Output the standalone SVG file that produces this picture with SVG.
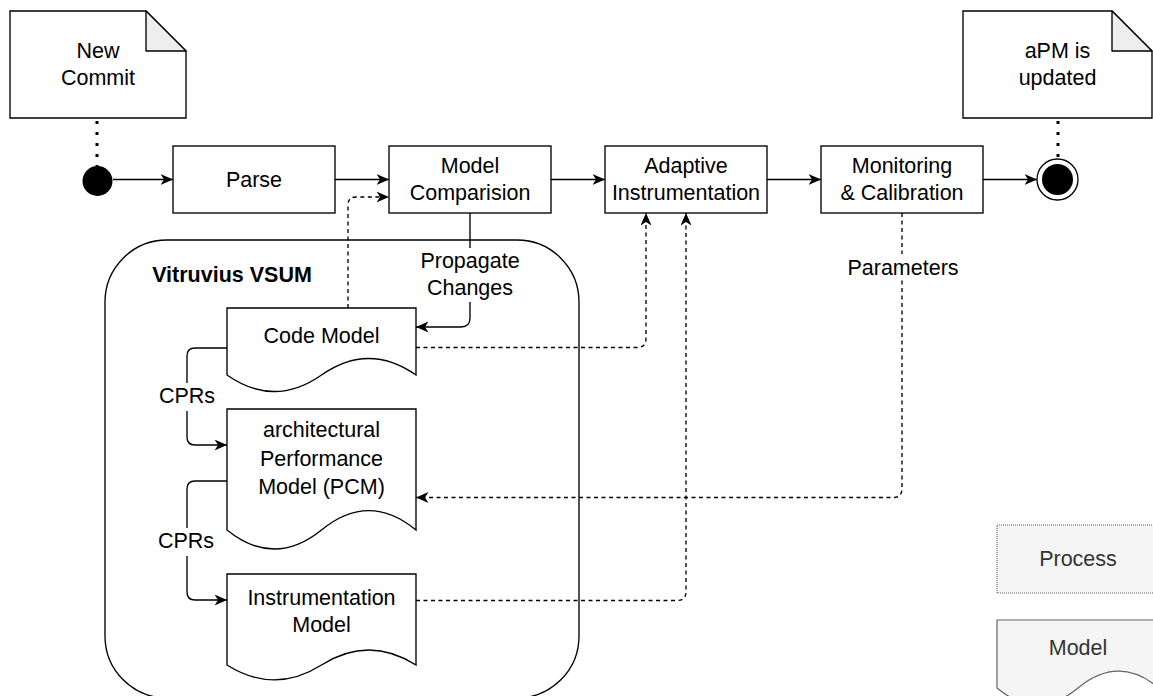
<svg xmlns="http://www.w3.org/2000/svg" width="1153" height="696" viewBox="0 0 1153 696">
  <style>
    text { font-family: "Liberation Sans", Arial, sans-serif; font-size: 21.5px; fill: #000; text-anchor: middle; }
    .box { fill: #fff; stroke: #000; stroke-width: 1.35; }
    .doc { fill: #fff; stroke: #000; stroke-width: 1.35; }
    .fold { fill: #eeeeee; stroke: #000; stroke-width: 1.35; stroke-linejoin: round; }
    .edge { fill: none; stroke: #000; stroke-width: 1.35; }
    .dash { stroke-dasharray: 4 3.5; }
    .dot { fill: none; stroke: #000; stroke-width: 3; stroke-dasharray: 3 8; }
    .lbl { fill: #fff; }
    .legend { fill: #f5f5f5; stroke: #666; stroke-width: 1.2; }
    .legend-text { fill: #333; }
  </style>
  <defs>
    <marker id="arrow" markerUnits="userSpaceOnUse" markerWidth="14" markerHeight="13" refX="12.5" refY="5.5" orient="auto">
      <path d="M0,0 L12.5,5.5 L0,11 L3.5,5.5 Z" fill="#000"/>
    </marker>
  </defs>

  <rect width="1153" height="696" fill="#fff"/>

  <!-- container -->
  <g id="vsum">
    <rect x="105" y="240" width="474" height="458" rx="62" ry="62" fill="none" stroke="#000" stroke-width="1.35"/>
    <text x="232" y="282" font-weight="bold">Vitruvius VSUM</text>
  </g>

  <!-- connectors -->
  <g id="connectors">
    <path class="dot" d="M97,121 L97,166"/>
    <path class="dot" d="M1058,121 L1058,158"/>
    <path class="edge" d="M113,179.5 L173,179.5" marker-end="url(#arrow)"/>
    <path class="edge" d="M335,179.5 L389,179.5" marker-end="url(#arrow)"/>
    <path class="edge" d="M551,179.5 L605,179.5" marker-end="url(#arrow)"/>
    <path class="edge" d="M767,179.5 L821,179.5" marker-end="url(#arrow)"/>
    <path class="edge" d="M983,179.5 L1037,179.5" marker-end="url(#arrow)"/>
    <path class="edge dash" d="M348,308 L348,205 Q348,197 356,197 L389,197" marker-end="url(#arrow)"/>
    <path class="edge" d="M470,213 L470,318 Q470,327 461,327 L416,327" marker-end="url(#arrow)"/>
    <path class="edge dash" d="M416,347.5 L637,347.5 Q646,347.5 646,338.5 L646,213" marker-end="url(#arrow)"/>
    <path class="edge dash" d="M416,600.5 L677,600.5 Q686,600.5 686,591.5 L686,213" marker-end="url(#arrow)"/>
    <path class="edge dash" d="M902,213 L902,488.5 Q902,497.5 893,497.5 L416,497.5" marker-end="url(#arrow)"/>
    <path class="edge" d="M227,348 L195,348 Q187,348 187,356 L187,437 Q187,445 195,445 L227,445" marker-end="url(#arrow)"/>
    <path class="edge" d="M227,481 L195,481 Q187,481 187,489 L187,592 Q187,600 195,600 L227,600" marker-end="url(#arrow)"/>
    <!-- edge labels -->
    <rect class="lbl" x="420" y="248" width="100" height="54"/>
    <text x="470" y="268">Propagate</text>
    <text x="470" y="295">Changes</text>
    <rect class="lbl" x="847" y="254" width="112" height="26"/>
    <text x="903" y="275">Parameters</text>
    <rect class="lbl" x="158" y="383" width="58" height="28"/>
    <text x="187" y="403">CPRs</text>
    <rect class="lbl" x="157" y="528" width="58" height="28"/>
    <text x="186" y="548">CPRs</text>
  </g>

  <!-- notes -->
  <g id="new-commit">
    <path class="box" d="M10,11 L146,11 L186,51 L186,118 L10,118 Z"/>
    <path class="fold" d="M146,11 L146,51 L186,51 Z"/>
    <text x="98" y="58">New</text>
    <text x="98" y="85">Commit</text>
  </g>
  <g id="apm-updated">
    <path class="box" d="M963,11 L1112,11 L1152,51 L1152,118 L963,118 Z"/>
    <path class="fold" d="M1112,11 L1112,51 L1152,51 Z"/>
    <text x="1057.5" y="58">aPM is</text>
    <text x="1057.5" y="85">updated</text>
  </g>

  <!-- start / end -->
  <g id="start">
    <circle cx="97.5" cy="181" r="15" fill="#000"/>
  </g>
  <g id="end">
    <circle cx="1057.5" cy="179.5" r="20.5" fill="#fff" stroke="#000" stroke-width="1.35"/>
    <circle cx="1057.5" cy="179.5" r="15.5" fill="#000"/>
  </g>

  <!-- process steps -->
  <g id="parse">
    <rect class="box" x="173" y="146" width="162" height="67"/>
    <text x="254" y="187">Parse</text>
  </g>
  <g id="model-comparision">
    <rect class="box" x="389" y="146" width="162" height="67"/>
    <text x="470" y="173">Model</text>
    <text x="470" y="200">Comparision</text>
  </g>
  <g id="adaptive-instrumentation">
    <rect class="box" x="605" y="146" width="162" height="67"/>
    <text x="686" y="173">Adaptive</text>
    <text x="686" y="200">Instrumentation</text>
  </g>
  <g id="monitoring-calibration">
    <rect class="box" x="821" y="146" width="162" height="67"/>
    <text x="902" y="173">Monitoring</text>
    <text x="902" y="200">&amp; Calibration</text>
  </g>

  <!-- models -->
  <g id="code-model">
    <path class="doc" d="M227,308 L416,308 L416,375 Q368.75,341.9 321.5,375 Q274.25,408.1 227,375 Z"/>
    <text x="321.5" y="343">Code Model</text>
  </g>
  <g id="pcm">
    <path class="doc" d="M227,409 L416,409 L416,530 Q368.75,491.2 321.5,530 Q274.25,568.1 227,530 Z"/>
    <text x="321.5" y="437" font-size="24">architectural</text>
    <text x="321.5" y="466" font-size="24">Performance</text>
    <text x="321.5" y="494" font-size="24">Model (PCM)</text>
  </g>
  <g id="instrumentation-model">
    <path class="doc" d="M227,574 L416,574 L416,665 Q368.75,635 321.5,665 Q274.25,694.8 227,665 Z"/>
    <text x="321.5" y="605">Instrumentation</text>
    <text x="321.5" y="632">Model</text>
  </g>

  <!-- legend -->
  <g id="legend-process">
    <rect class="legend" x="997" y="525" width="162" height="68" stroke-dasharray="1 1"/>
    <text class="legend-text" x="1078" y="566">Process</text>
  </g>
  <g id="legend-model">
    <path class="legend" d="M997,620 L1159,620 L1159,688 Q1118.5,654.4 1078,688 Q1037.5,721.6 997,688 Z"/>
    <text class="legend-text" x="1078" y="655">Model</text>
  </g>
</svg>
